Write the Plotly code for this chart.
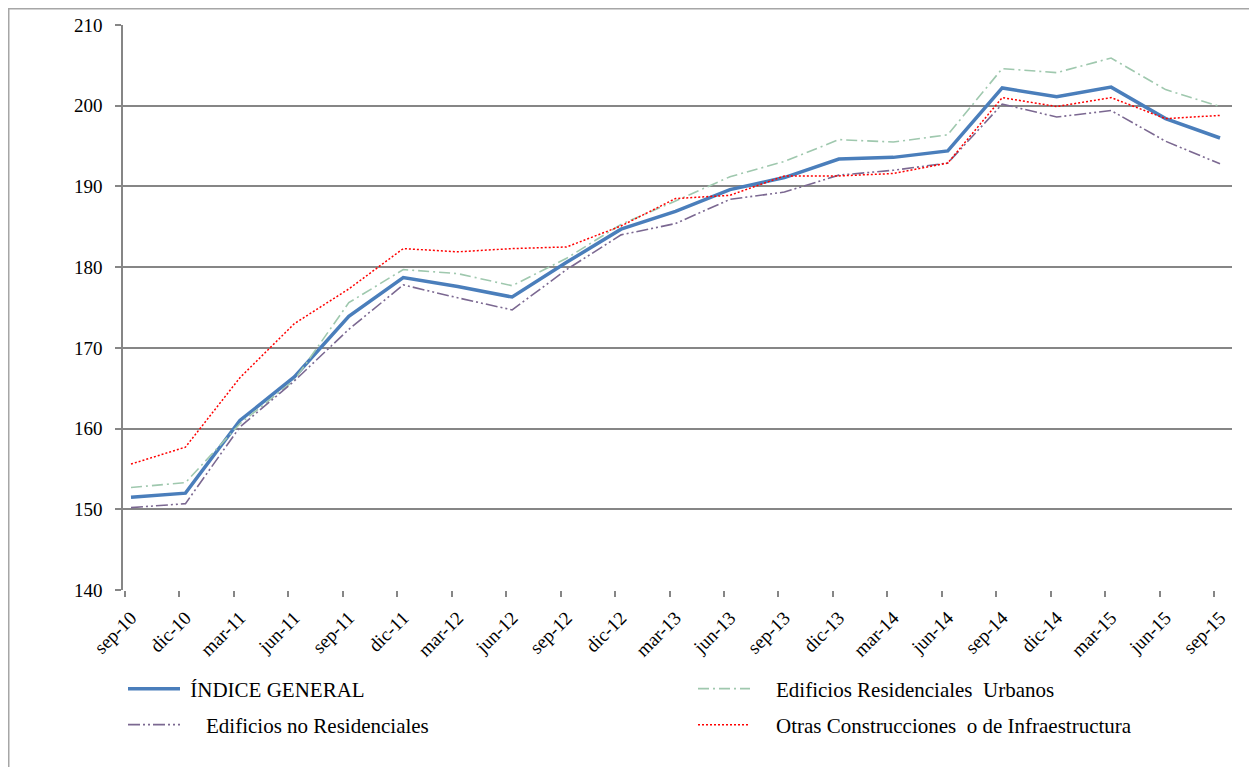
import plotly.graph_objects as go

categories = ["sep-10", "dic-10", "mar-11", "jun-11", "sep-11", "dic-11", "mar-12", "jun-12",
              "sep-12", "dic-12", "mar-13", "jun-13", "sep-13", "dic-13", "mar-14", "jun-14",
              "sep-14", "dic-14", "mar-15", "jun-15", "sep-15"]

indice_general = [151.5, 152.0, 161.0, 166.4, 173.9, 178.7, 177.6, 176.3, 180.6, 184.7, 186.9,
                  189.6, 191.1, 193.4, 193.6, 194.4, 202.2, 201.1, 202.3, 198.4, 196.0]
residenciales_urbanos = [152.7, 153.3, 160.6, 166.0, 175.6, 179.7, 179.2, 177.7, 181.1, 185.3, 188.2,
                         191.2, 193.1, 195.8, 195.5, 196.4, 204.6, 204.1, 205.9, 202.0, 199.9]
no_residenciales = [150.2, 150.7, 160.2, 165.9, 172.3, 177.8, 176.2, 174.7, 179.7, 184.0, 185.4,
                    188.4, 189.3, 191.4, 192.0, 192.9, 200.2, 198.6, 199.4, 195.6, 192.8]
otras_construcciones = [155.6, 157.7, 166.3, 173.0, 177.3, 182.3, 181.9, 182.3, 182.5, 185.1, 188.5,
                        188.9, 191.3, 191.3, 191.6, 192.9, 201.0, 199.9, 201.0, 198.4, 198.8]

y_ticks = [140, 150, 160, 170, 180, 190, 200, 210]

idx = list(range(len(categories)))
serif = "Liberation Serif"
W, H = 1241, 759
OFF = 8  # page body offset
NB = "\u00a0"

fig = go.Figure()
fig.add_trace(go.Scatter(x=idx, y=indice_general, mode="lines", name=NB + "ÍNDICE GENERAL",
                         legend="legend",
                         line=dict(color="#4a7ebb", width=3.5)))
fig.add_trace(go.Scatter(x=idx, y=residenciales_urbanos, mode="lines",
                         name=NB * 4 + "Edificios Residenciales  Urbanos", legend="legend2",
                         line=dict(color="#9fc8ae", width=1.6, dash="11px,4px,2px,4px")))
fig.add_trace(go.Scatter(x=idx, y=no_residenciales, mode="lines",
                         name=NB * 4 + "Edificios no Residenciales", legend="legend3",
                         line=dict(color="#7b6891", width=1.6, dash="12px,3px,2px,3px,2px,3px")))
fig.add_trace(go.Scatter(x=idx, y=otras_construcciones, mode="lines",
                         name=NB * 4 + "Otras Construcciones  o de Infraestructura", legend="legend4",
                         line=dict(color="#ff0000", width=1.5, dash="2px,2px")))


def leg(xpx, ypx):
    return dict(orientation="h", xref="container", yref="container",
                x=(xpx - OFF) / W, y=1 - (ypx - OFF) / H, xanchor="left", yanchor="middle",
                font=dict(family=serif, size=21, color="#000000"), itemwidth=52,
                bgcolor="rgba(0,0,0,0)", borderwidth=0)


plot_l, plot_r, plot_t, plot_b = 123, 1232, 25, 590
pw, ph = plot_r - plot_l, plot_b - plot_t

fig.update_layout(
    width=W, height=H,
    margin=dict(l=plot_l - OFF, r=W - (plot_r - OFF), t=plot_t - OFF, b=H - (plot_b - OFF),
                autoexpand=False),
    paper_bgcolor="white", plot_bgcolor="white",
    font=dict(family=serif, size=19, color="#000000"),
    showlegend=True,
    legend=leg(123, 689),
    legend2=leg(693, 689),
    legend3=leg(123, 725),
    legend4=leg(693, 725),
    xaxis=dict(range=[-0.147, 20.22], tickmode="array", tickvals=idx, ticktext=categories,
               tickangle=-45, ticks="", showgrid=False, zeroline=False, showline=False,
               automargin=False,
               tickfont=dict(family=serif, size=19), ticklabelstandoff=12,
               minor=dict(tickmode="array", tickvals=[i - 0.11 for i in idx], ticks="outside",
                          ticklen=6, tickcolor="#868686", tickwidth=1.5, showgrid=False)),
    yaxis=dict(range=[140, 210], tickmode="array", tickvals=y_ticks, ticks="outside",
               ticklen=6, tickcolor="#868686", tickwidth=1.5, automargin=False,
               showgrid=True, gridcolor="#868686", gridwidth=1.5, zeroline=False,
               showline=True, linecolor="#868686", linewidth=1.5,
               tickfont=dict(family=serif, size=19), ticklabelstandoff=9),
    shapes=[dict(type="rect", xref="paper", yref="paper",
                 x0=(8.75 - plot_l) / pw, x1=1.2, y0=-0.5, y1=(plot_b - 8.75) / ph,
                 line=dict(color="#a6a6a6", width=1.5), fillcolor="rgba(0,0,0,0)", layer="below")],
)

fig.write_html("out.html")
